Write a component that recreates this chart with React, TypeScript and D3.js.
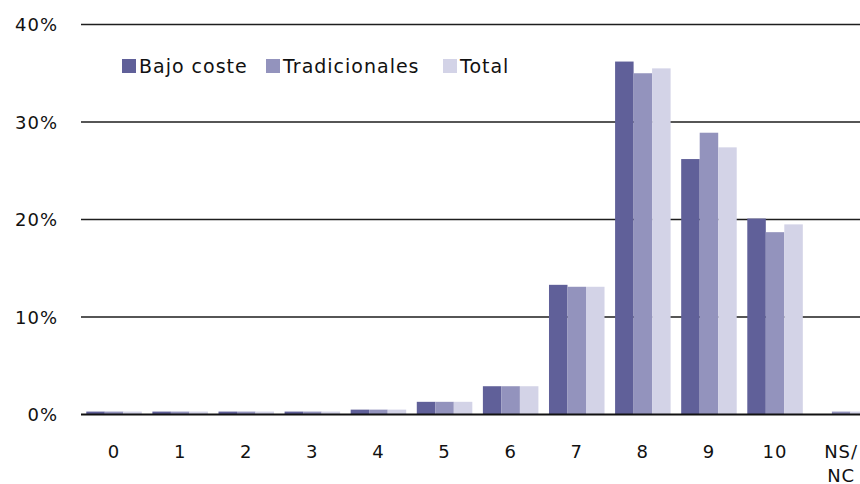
import { useEffect, useRef } from 'react'
import * as d3 from 'd3'

const categories = ['0', '1', '2', '3', '4', '5', '6', '7', '8', '9', '10', 'NS/NC']
const seriesNames = ['Bajo coste', 'Tradicionales', 'Total']
const bajoCoste = [0.3, 0.3, 0.3, 0.3, 0.5, 1.3, 2.9, 13.3, 36.2, 26.2, 20.1, 0]
const tradicionales = [0.3, 0.3, 0.3, 0.3, 0.5, 1.3, 2.9, 13.1, 35.0, 28.9, 18.7, 0.3]
const total = [0.3, 0.3, 0.3, 0.3, 0.5, 1.3, 2.9, 13.1, 35.5, 27.4, 19.5, 0.3]
const yTicks = [0, 10, 20, 30, 40]
const colors = ['#606099', '#9393bd', '#d3d3e7']

export default function App() {
  const svgRef = useRef<SVGSVGElement>(null)

  useEffect(() => {
    const svg = d3.select(svgRef.current)
    svg.selectAll('*').remove()

    const W = 860
    const H = 484
    const font = 'Verdana, "DejaVu Sans", sans-serif'
    const series = [bajoCoste, tradicionales, total]

    const x = d3.scaleBand<string>()
      .domain(categories)
      .range([81, 81 + 12 * 66.1])
      .paddingInner(0.16)
      .paddingOuter(0.08)
    const x1 = d3.scaleBand<number>()
      .domain(d3.range(series.length))
      .range([0, x.bandwidth()])
    const y = d3.scaleLinear().domain([0, 40]).range([414.5, 24.5])

    svg.attr('width', W).attr('height', H)

    // grid lines
    svg.append('g')
      .selectAll('line')
      .data(yTicks.filter((d) => d > 0))
      .enter()
      .append('line')
      .attr('x1', 81)
      .attr('x2', W)
      .attr('y1', (d) => y(d))
      .attr('y2', (d) => y(d))
      .attr('stroke', '#1e1e1e')
      .attr('stroke-width', 1.4)

    // y labels
    svg.append('g')
      .selectAll('text')
      .data(yTicks)
      .enter()
      .append('text')
      .attr('x', 58)
      .attr('y', (d) => y(d))
      .attr('dy', '0.37em')
      .attr('text-anchor', 'end')
      .attr('fill', '#111')
      .style('font-family', font)
      .style('font-size', '18px')
      .style('letter-spacing', '1px')
      .text((d) => `${d}%`)

    // bars
    series.forEach((vals, si) => {
      svg.append('g')
        .selectAll('rect')
        .data(vals)
        .enter()
        .append('rect')
        .attr('x', (_, i) => (x(categories[i]) ?? 0) + (x1(si) ?? 0))
        .attr('y', (d) => y(d))
        .attr('width', x1.bandwidth())
        .attr('height', (d) => y(0) - y(d))
        .attr('fill', colors[si])
    })

    // baseline
    svg.append('line')
      .attr('x1', 81)
      .attr('x2', W)
      .attr('y1', y(0))
      .attr('y2', y(0))
      .attr('stroke', '#111')
      .attr('stroke-width', 2)

    // x labels
    const xl = svg.append('g')
      .selectAll('text')
      .data(categories)
      .enter()
      .append('text')
      .attr('y', 458)
      .attr('text-anchor', 'middle')
      .attr('fill', '#111')
      .style('font-family', font)
      .style('font-size', '18px')
      .style('letter-spacing', '1px')
    xl.each(function (d) {
      const parts = d === 'NS/NC' ? ['NS/', 'NC'] : [d]
      const t = d3.select(this)
      parts.forEach((p, i) => {
        t.append('tspan')
          .attr('x', (x(d) ?? 0) + x.bandwidth() / 2)
          .attr('dy', i === 0 ? 0 : 24)
          .text(p)
      })
    })

    // legend
    const legendX = [122, 266, 443]
    seriesNames.forEach((name, i) => {
      const g = svg.append('g').attr('transform', `translate(${legendX[i]},59)`)
      g.append('rect').attr('width', 14).attr('height', 14).attr('fill', colors[i])
      g.append('text')
        .attr('x', 17)
        .attr('y', 13.5)
        .attr('fill', '#111')
        .style('font-family', font)
        .style('font-size', '19px')
        .style('letter-spacing', '1px')
        .text(name)
    })
  }, [])

  return (
    <div style={{ position: 'fixed', left: 0, top: 0 }}>
      <svg ref={svgRef} style={{ display: 'block', background: '#fff' }} />
    </div>
  )
}
